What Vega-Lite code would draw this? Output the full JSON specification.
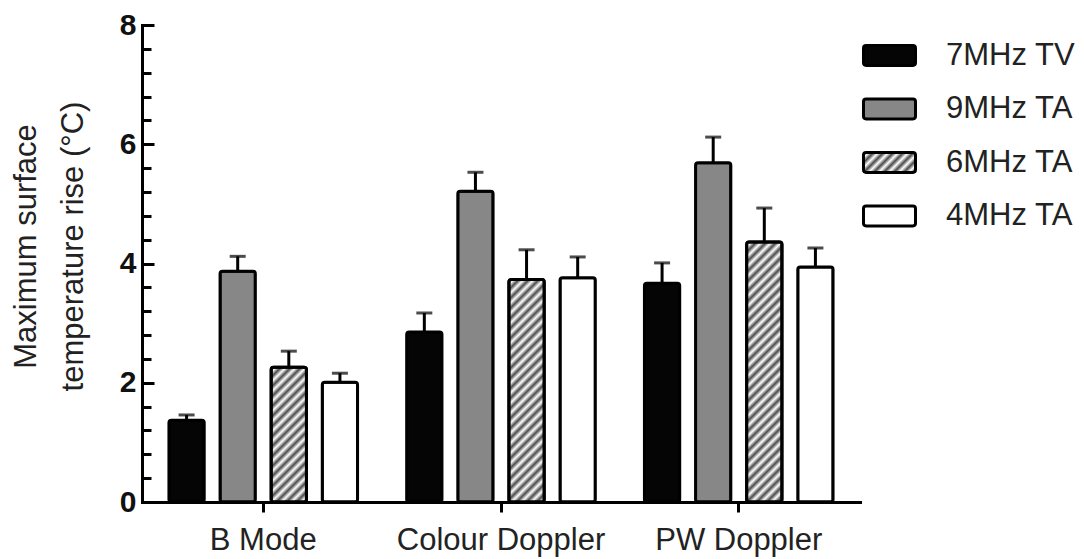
{
  "$schema": "https://vega.github.io/schema/vega-lite/v6.json",
  "width": 718,
  "height": 477,
  "autosize": {"type": "none"},
  "padding": {"left": 142, "top": 25, "right": 224, "bottom": 57},
  "background": "white",
  "config": {
    "font": "Liberation Sans",
    "view": {"stroke": null}
  },
  "params": [
    {"name": "hatch", "expr": "[{offset:0,color:'#4a4a4a'},{offset:0.0167,color:'#fff'},{offset:0.0333,color:'#4a4a4a'},{offset:0.05,color:'#fff'},{offset:0.0667,color:'#4a4a4a'},{offset:0.0833,color:'#fff'},{offset:0.1,color:'#4a4a4a'},{offset:0.1167,color:'#fff'},{offset:0.1333,color:'#4a4a4a'},{offset:0.15,color:'#fff'},{offset:0.1667,color:'#4a4a4a'},{offset:0.1833,color:'#fff'},{offset:0.2,color:'#4a4a4a'},{offset:0.2167,color:'#fff'},{offset:0.2333,color:'#4a4a4a'},{offset:0.25,color:'#fff'},{offset:0.2667,color:'#4a4a4a'},{offset:0.2833,color:'#fff'},{offset:0.3,color:'#4a4a4a'},{offset:0.3167,color:'#fff'},{offset:0.3333,color:'#4a4a4a'},{offset:0.35,color:'#fff'},{offset:0.3667,color:'#4a4a4a'},{offset:0.3833,color:'#fff'},{offset:0.4,color:'#4a4a4a'},{offset:0.4167,color:'#fff'},{offset:0.4333,color:'#4a4a4a'},{offset:0.45,color:'#fff'},{offset:0.4667,color:'#4a4a4a'},{offset:0.4833,color:'#fff'},{offset:0.5,color:'#4a4a4a'},{offset:0.5167,color:'#fff'},{offset:0.5333,color:'#4a4a4a'},{offset:0.55,color:'#fff'},{offset:0.5667,color:'#4a4a4a'},{offset:0.5833,color:'#fff'},{offset:0.6,color:'#4a4a4a'},{offset:0.6167,color:'#fff'},{offset:0.6333,color:'#4a4a4a'},{offset:0.65,color:'#fff'},{offset:0.6667,color:'#4a4a4a'},{offset:0.6833,color:'#fff'},{offset:0.7,color:'#4a4a4a'},{offset:0.7167,color:'#fff'},{offset:0.7333,color:'#4a4a4a'},{offset:0.75,color:'#fff'},{offset:0.7667,color:'#4a4a4a'},{offset:0.7833,color:'#fff'},{offset:0.8,color:'#4a4a4a'},{offset:0.8167,color:'#fff'},{offset:0.8333,color:'#4a4a4a'},{offset:0.85,color:'#fff'},{offset:0.8667,color:'#4a4a4a'},{offset:0.8833,color:'#fff'},{offset:0.9,color:'#4a4a4a'},{offset:0.9167,color:'#fff'},{offset:0.9333,color:'#4a4a4a'},{offset:0.95,color:'#fff'},{offset:0.9667,color:'#4a4a4a'},{offset:0.9833,color:'#fff'},{offset:1,color:'#4a4a4a'}]"}
  ],
  "data": {
    "values": [
      {"Mode": "B Mode", "Series": "7MHz TV", "value": 1.37, "upper": 1.46},
      {"Mode": "B Mode", "Series": "9MHz TA", "value": 3.87, "upper": 4.12},
      {"Mode": "B Mode", "Series": "6MHz TA", "value": 2.26, "upper": 2.53},
      {"Mode": "B Mode", "Series": "4MHz TA", "value": 2.01, "upper": 2.16},
      {"Mode": "Colour Doppler", "Series": "7MHz TV", "value": 2.85, "upper": 3.17},
      {"Mode": "Colour Doppler", "Series": "9MHz TA", "value": 5.21, "upper": 5.53},
      {"Mode": "Colour Doppler", "Series": "6MHz TA", "value": 3.73, "upper": 4.23},
      {"Mode": "Colour Doppler", "Series": "4MHz TA", "value": 3.76, "upper": 4.11},
      {"Mode": "PW Doppler", "Series": "7MHz TV", "value": 3.67, "upper": 4.01},
      {"Mode": "PW Doppler", "Series": "9MHz TA", "value": 5.69, "upper": 6.12},
      {"Mode": "PW Doppler", "Series": "6MHz TA", "value": 4.36, "upper": 4.93},
      {"Mode": "PW Doppler", "Series": "4MHz TA", "value": 3.94, "upper": 4.26}
    ]
  },
  "encoding": {
    "x": {
      "field": "Mode", "type": "nominal", "sort": null,
      "scale": {"paddingInner": 0.14, "paddingOuter": 0.08},
      "axis": {
        "title": null, "labelAngle": 0, "labelFontSize": 31, "labelColor": "#222", "labelLimit": 0,
        "labelPadding": 13, "tickSize": 10, "tickWidth": 3, "tickColor": "black",
        "domainWidth": 3, "domainColor": "black", "domainCap": "square", "grid": false
      }
    },
    "xOffset": {
      "field": "Series", "type": "nominal",
      "sort": ["7MHz TV", "9MHz TA", "6MHz TA", "4MHz TA"],
      "scale": {"paddingInner": 0.31, "paddingOuter": 0.155}
    }
  },
  "layer": [
    {
      "mark": {"type": "bar", "stroke": "black", "strokeWidth": 3, "cornerRadius": 2.5},
      "encoding": {
        "y": {
          "field": "value", "type": "quantitative",
          "scale": {"domain": [0, 8], "nice": false},
          "axis": {
            "orient": "left", "grid": false, "format": ".0f", "labelOverlap": false, "labelFlush": false,
            "tickCount": 40,
            "values": [0, 0.4, 0.8, 1.2, 1.6, 2, 2.4, 2.8, 3.2, 3.6, 4, 4.4, 4.8, 5.2, 5.6, 6, 6.4, 6.8, 7.2, 7.6, 8],
            "labelExpr": "datum.value % 2 === 0 ? datum.label : ''",
            "tickSize": {"condition": {"test": "datum.value % 2 === 0", "value": -12}, "value": -9},
            "tickWidth": 3, "tickColor": "black",
            "domainWidth": 3, "domainColor": "black", "domainCap": "square",
            "labelFontSize": 30, "labelFontWeight": "bold", "labelColor": "#111", "labelPadding": 18,
            "title": ["Maximum surface", "temperature rise (°C)"],
            "titleFontSize": 31, "titleFontWeight": "normal", "titleColor": "#222",
            "titleLineHeight": 47, "titleX": -107, "titleY": 221,
            "titleBaseline": "alphabetic", "titleAlign": "center", "titleAngle": -90
          }
        },
        "fill": {
          "field": "Series", "type": "nominal",
          "scale": {
            "domain": ["7MHz TV", "9MHz TA", "6MHz TA", "4MHz TA"],
            "range": ["#050505", "#878787", {"expr": "{gradient:'linear',x1:0,y1:0,x2:5.0412,y2:1.9157,stops:hatch}"}, "white"]
          },
          "legend": {
            "title": null, "orient": "right", "offset": -1, "padding": 3, "rowPadding": 9.5,
            "symbolType": "M-0.9,-0.38H0.9Q1,-0.38,1,-0.28V0.28Q1,0.38,0.9,0.38H-0.9Q-1,0.38,-1,0.28V-0.28Q-1,-0.38,-0.9,-0.38Z",
            "symbolSize": 2704, "symbolStrokeColor": "black", "symbolStrokeWidth": 3, "symbolOpacity": 1,
            "labelFontSize": 31, "labelColor": "#222", "labelOffset": 29, "labelLimit": 0
          }
        }
      }
    },
    {
      "mark": {"type": "rule", "color": "black", "strokeWidth": 3},
      "encoding": {
        "y": {"field": "value", "type": "quantitative"},
        "y2": {"field": "upper"}
      }
    },
    {
      "transform": [{"filter": "datum.Series === '6MHz TA'"}],
      "mark": {
        "type": "bar", "stroke": "black", "strokeWidth": 3, "cornerRadius": 2.5,
        "fill": {"expr": "{gradient:'linear',x1:0,y1:0,x2:(datum.Mode==='B Mode'?0.5458:datum.Mode==='Colour Doppler'?0.2088:0.1539),y2:(datum.Mode==='B Mode'?2.0834:datum.Mode==='Colour Doppler'?1.3158:1.1331),stops:hatch}"}
      },
      "encoding": {
        "y": {"field": "value", "type": "quantitative"}
      }
    },
    {
      "mark": {"type": "tick", "color": "black", "thickness": 3, "size": 16},
      "encoding": {
        "y": {"field": "upper", "type": "quantitative"}
      }
    }
  ]
}
